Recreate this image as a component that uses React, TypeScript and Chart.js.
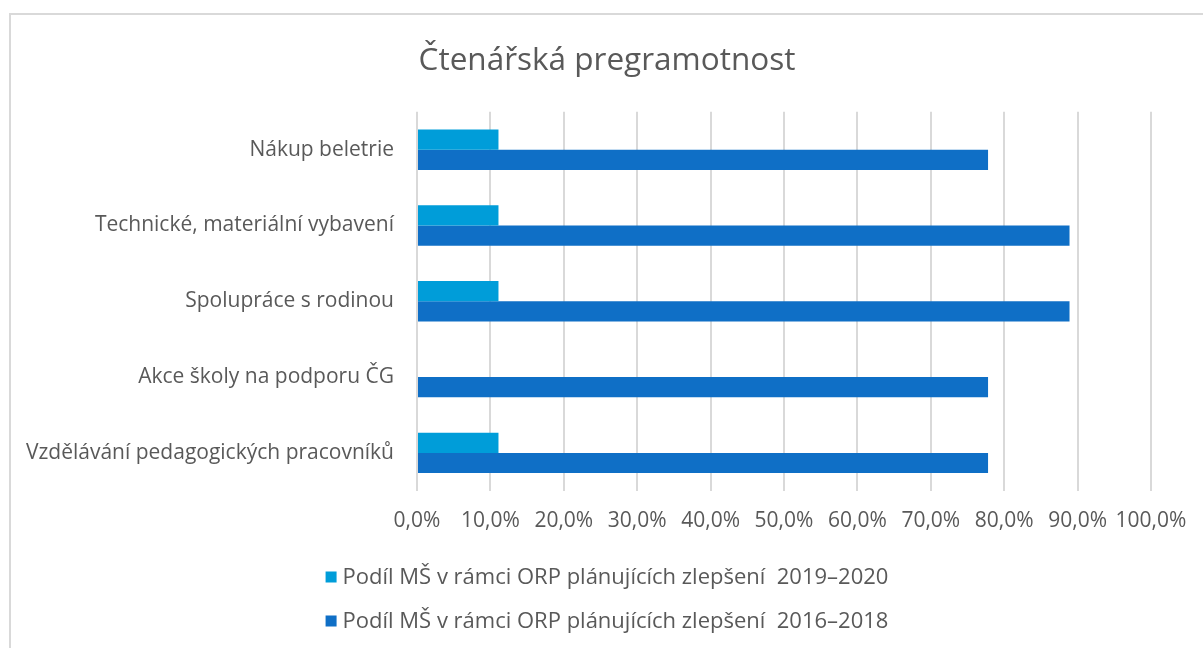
import React, { useEffect, useRef } from 'react';
import { Chart, registerables } from 'chart.js';

Chart.register(...registerables);

const titleText = 'Čtenářská pregramotnost';
const categories = [
  'Nákup beletrie',
  'Technické, materiální vybavení',
  'Spolupráce s rodinou',
  'Akce školy na podporu ČG',
  'Vzdělávání pedagogických pracovníků',
];
const seriesLabels = [
  'Podíl MŠ v rámci ORP plánujících zlepšení  2019–2020',
  'Podíl MŠ v rámci ORP plánujících zlepšení  2016–2018',
];
const values2019 = [11.1, 11.1, 11.1, 0, 11.1];
const values2016 = [77.8, 88.9, 88.9, 77.8, 77.8];
const seriesColors = ['#009DD9', '#0F6FC6'];
const xMin = 0;
const xMax = 100;
const xStep = 10;

const FONT = '"Open Sans", "Noto Sans", sans-serif';
const TEXT = '#595959';

export default function App() {
  const ref = useRef<HTMLCanvasElement>(null);

  useEffect(() => {
    if (!ref.current) return;
    Chart.defaults.font.family = FONT;

    const legendPlugin = {
      id: 'verticalLegend',
      afterDraw(chart: any) {
        const ctx = chart.ctx as CanvasRenderingContext2D;
        ctx.save();
        ctx.font = `22px ${FONT}`;
        ctx.textBaseline = 'middle';
        ctx.textAlign = 'left';
        const box = 11;
        const gap = 6;
        const widths = chart.data.datasets.map((d: any) => ctx.measureText(d.label).width);
        const blockW = box + gap + Math.max(...widths);
        const x0 = (chart.width - blockW) / 2;
        const rowsY = [562, 606];
        chart.data.datasets.forEach((d: any, i: number) => {
          const y = rowsY[i];
          ctx.fillStyle = d.backgroundColor;
          ctx.fillRect(x0, y - box / 2, box, box);
          ctx.fillStyle = TEXT;
          ctx.fillText(d.label, x0 + box + gap, y + 1);
        });
        ctx.restore();
      },
    };

    const chart = new Chart(ref.current, {
      type: 'bar',
      data: {
        labels: categories,
        datasets: [
          {
            label: seriesLabels[0],
            data: values2019,
            backgroundColor: seriesColors[0],
            categoryPercentage: 0.533,
            barPercentage: 1,
          },
          {
            label: seriesLabels[1],
            data: values2016,
            backgroundColor: seriesColors[1],
            categoryPercentage: 0.533,
            barPercentage: 1,
          },
        ],
      },
      options: {
        indexAxis: 'y',
        responsive: false,
        animation: false,
        layout: { padding: { left: 0, right: 0, top: 0, bottom: 96 } },
        plugins: {
          legend: { display: false },
          tooltip: { enabled: false },
          title: {
            display: true,
            text: titleText,
            color: TEXT,
            font: { size: 31.5, weight: 'normal', family: FONT },
            padding: { top: 27, bottom: 32 },
          },
        },
        scales: {
          y: {
            type: 'category',
            grid: { display: false, drawTicks: false },
            border: { display: false },
            ticks: { color: TEXT, font: { size: 21, family: FONT }, padding: 23 },
            afterFit: (s: any) => {
              s.width = 406;
              s.paddingTop = 0;
              s.paddingBottom = 0;
            },
          },
          x: {
            type: 'linear',
            min: xMin,
            max: xMax,
            grid: { color: '#D9D9D9', lineWidth: 2, drawTicks: false },
            border: { display: false },
            ticks: {
              stepSize: xStep,
              color: TEXT,
              font: { size: 21, family: FONT },
              padding: 18,
              maxRotation: 0,
              callback: (v: any) => Number(v).toFixed(1).replace('.', ',') + '%',
            },
            afterFit: (s: any) => {
              s.paddingLeft = 0;
              s.paddingRight = 52;
            },
          },
        },
      },
      plugins: [legendPlugin],
    });
    return () => chart.destroy();
  }, []);

  return (
    <div
      style={{
        position: 'absolute',
        left: 9,
        top: 13,
        width: 1194,
        height: 635,
        borderTop: '2px solid #D9D9D9',
        borderLeft: '2px solid #D9D9D9',
        boxSizing: 'border-box',
        background: '#fff',
        overflow: 'hidden',
      }}
    >
      <canvas ref={ref} width={1192} height={633} style={{ display: 'block' }} />
    </div>
  );
}
